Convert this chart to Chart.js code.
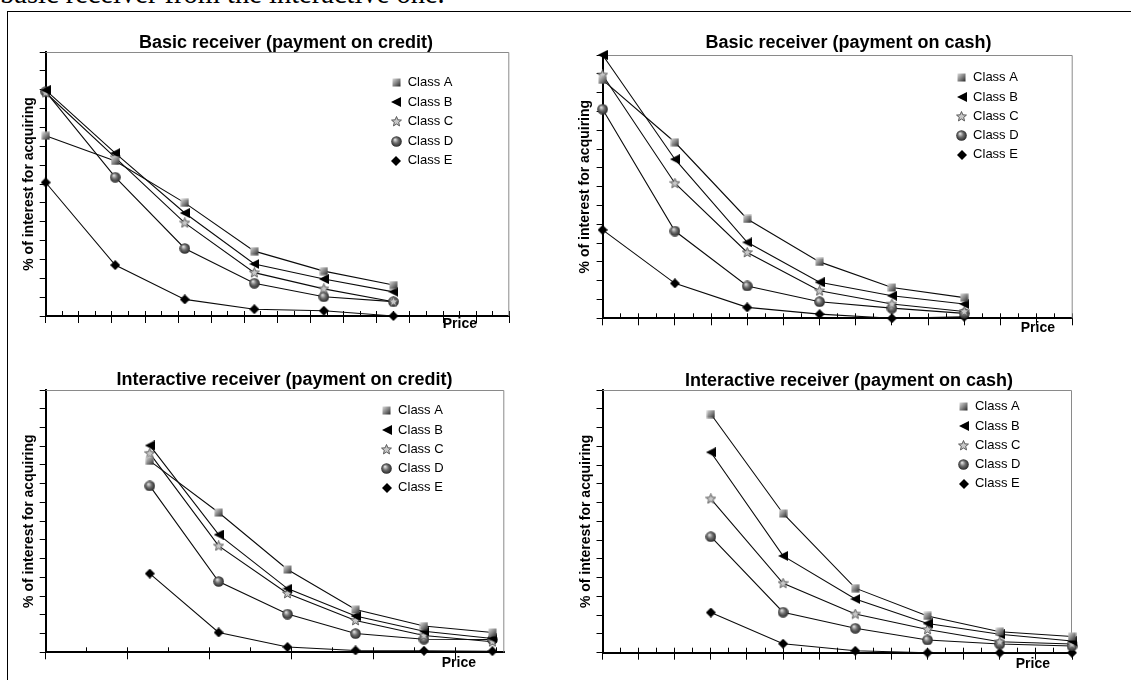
<!DOCTYPE html>
<html>
<head>
<meta charset="utf-8">
<script src="https://cdn.jsdelivr.net/npm/chart.js@4.4.1/dist/chart.umd.min.js"></script>
<style>
html,body{margin:0;padding:0;background:#fff;overflow:hidden;}
body{width:1131px;height:680px;position:relative;}
#intro{position:absolute;left:0;top:-20px;font:28.5px/1 "Liberation Serif","Times New Roman",serif;white-space:nowrap;color:#000;}
#marco{position:absolute;left:7px;top:11px;width:1300px;height:900px;border-left:1px solid #000;border-top:1px solid #000;}
canvas{position:absolute;}
</style>
</head>
<body>
<div id="intro">basic receiver from the interactive one.</div>
<div id="marco"></div>
<canvas id="g1" width="552" height="320" style="left:10px;top:20px"></canvas>
<canvas id="g2" width="547" height="320" style="left:575px;top:20px"></canvas>
<canvas id="g3" width="549" height="330" style="left:10px;top:350px"></canvas>
<canvas id="g4" width="548" height="330" style="left:575px;top:350px"></canvas>
<script>
// ===== DATOS =====
const classes=["Class A","Class B","Class C","Class D","Class E"];
const yTitle="% of interest for acquiring";
const xTitle="Price";

// basic receiver, credit
const bcTitle="Basic receiver (payment on credit)";
const bcPrice=[0,4.2,8.4,12.6,16.8,21];
const bcA=[47.8,41.1,30.0,17.2,11.9,8.2];
const bcB=[59.9,43.2,27.3,13.8,9.8,6.4];
const bcC=[59.2,42.0,24.7,11.5,7.2,3.8];
const bcD=[59.5,36.8,17.9,8.7,5.1,3.8];
const bcE=[35.4,13.5,4.4,1.8,1.4,0];

// basic receiver, cash
const bkTitle="Basic receiver (payment on cash)";
const bkPrice=[0,4,8,12,16,20];
const bkA=[63.4,46.8,26.4,15.0,8.2,5.5];
const bkB=[70.0,42.3,20.2,9.6,6.0,3.8];
const bkC=[64.7,35.9,17.5,7.3,3.8,1.8];
const bkD=[55.6,23.2,8.6,4.4,2.7,1.3];
const bkE=[23.5,9.3,2.9,1.1,0,0.4];

// interactive receiver, credit
const icTitle="Interactive receiver (payment on credit)";
const icPrice=[2.54,4.22,5.9,7.56,9.23,10.9];
const icA=[51.1,37.3,22.1,11.4,7.0,5.3];
const icB=[55.2,31.4,17.0,9.7,5.6,3.7];
const icC=[53.1,28.4,15.7,8.5,4.5,2.8];
const icD=[44.4,18.9,10.2,5.0,3.5,3.4];
const icE=[21.0,5.3,1.4,0.5,0.4,0.3];

// interactive receiver, cash
const ikTitle="Interactive receiver (payment on cash)";
const ikPrice=[6,10,14,18,22,26];
const ikA=[63.6,37.1,17.2,9.8,5.6,4.3];
const ikB=[53.4,25.8,14.3,7.8,4.9,3.1];
const ikC=[41.0,18.5,10.3,6.2,2.9,2.3];
const ikD=[30.9,10.8,6.5,3.4,2.3,1.8];
const ikE=[10.7,2.4,0.5,0,0,0];

const yMax=70, yStep=5;

// ===== MARCADORES =====
function marker(kind){
 const c=document.createElement("canvas");
 const s=kind==="A"?9:kind==="B"?10:kind==="E"?10:11;
 c.width=c.height=s;
 const x=c.getContext("2d");
 if(kind==="A"){
  const g=x.createLinearGradient(0,0,s,s);
  g.addColorStop(0,"#e6e6e6");g.addColorStop(.5,"#858585");g.addColorStop(1,"#1a1a1a");
  x.fillStyle=g;x.fillRect(.5,.5,s-1,s-1);
 }else if(kind==="B"){
  x.fillStyle="#000";x.beginPath();x.moveTo(0,5);x.lineTo(10,0);x.lineTo(10,10);x.closePath();x.fill();
 }else if(kind==="C"){
  x.beginPath();
  for(let i=0;i<10;i++){
   const r=i%2?2.3:5.2,a=-Math.PI/2+i*Math.PI/5;
   x.lineTo(5.5+r*Math.cos(a),5.7+r*Math.sin(a));
  }
  x.closePath();x.fillStyle="#c8c8c8";x.fill();x.strokeStyle="#595959";x.lineWidth=1;x.stroke();
 }else if(kind==="D"){
  const g=x.createRadialGradient(4,3.6,.4,5.5,5.5,5.6);
  g.addColorStop(0,"#dedede");g.addColorStop(.45,"#6e6e6e");g.addColorStop(1,"#222");
  x.fillStyle=g;x.beginPath();x.arc(5.5,5.5,5.3,0,Math.PI*2);x.fill();
 }else{
  x.fillStyle="#000";x.beginPath();x.moveTo(5,0);x.lineTo(10,5);x.lineTo(5,10);x.lineTo(0,5);x.closePath();x.fill();
 }
 return c;
}
const markers=["A","B","C","D","E"].map(marker);

// ===== PLUGIN (marco, leyenda, Price) =====
const extras={
 id:"extras",
 beforeDatasetsDraw(chart){
  const {ctx,chartArea:a}=chart;
  ctx.save();
  ctx.strokeStyle="#8a8a8a";ctx.lineWidth=1;
  ctx.beginPath();
  ctx.moveTo(a.left,a.top+.5);ctx.lineTo(a.right-.5,a.top+.5);ctx.lineTo(a.right-.5,a.bottom);
  ctx.stroke();
  ctx.restore();
 },
 afterDraw(chart,args,o){
  const {ctx,chartArea:a}=chart;
  ctx.save();
  ctx.fillStyle="#000";ctx.textBaseline="middle";
  ctx.font='13px "Liberation Sans", Arial, sans-serif';
  chart.data.datasets.forEach((d,i)=>{
   const x=a.right-o.legRight,y=a.top+o.legTop+i*o.legGap;
   const im=d.pointStyle;
   ctx.drawImage(im,Math.round(x-im.width/2),Math.round(y-im.height/2));
   ctx.fillText(d.label,x+11.3,y);
  });
  ctx.font='bold 14px "Liberation Sans", Arial, sans-serif';
  ctx.textAlign="right";
  ctx.fillText(xTitle,a.right-o.priceRight,a.bottom+o.priceDown);
  ctx.restore();
 }
};

// ===== GRAFICOS =====
Chart.defaults.font.family='"Liberation Sans", Arial, sans-serif';
Chart.defaults.color="#000";

function crearGrafico(id,title,price,series,xMax,L){
 const datasets=series.map((s,i)=>({
  label:classes[i],
  data:s.map((v,j)=>({x:price[j],y:v})),
  xAxisID:"x",yAxisID:"y",
  borderColor:"#0a0a0a",borderWidth:1.1,tension:0,
  pointStyle:markers[i],pointRadius:5,
  clip:false
 }));
 return new Chart(document.getElementById(id),{
  type:"line",
  data:{datasets},
  plugins:[extras],
  options:{
   responsive:false,animation:false,
   layout:{padding:0},
   plugins:{
    legend:{display:false},
    tooltip:{enabled:false},
    title:{display:true,text:title,color:"#000",font:{size:18,weight:"bold",lineHeight:1},padding:{top:L.titleTop,bottom:L.titleBottom}},
    extras:L.ext
   },
   scales:{
    xm:{
     type:"linear",position:"bottom",axis:"x",weight:0,min:0,max:xMax,
     ticks:{display:false,stepSize:1,includeBounds:false},
     grid:{drawOnChartArea:false,drawTicks:true,tickLength:-5,color:"#000"},
     border:{display:false},
     afterFit(s){s.height=0;}
    },
    x:{
     type:"linear",position:"bottom",weight:1,min:0,max:xMax,
     ticks:{display:false,stepSize:2,includeBounds:false},
     grid:{drawOnChartArea:false,drawTicks:true,tickLength:7,color:"#000"},
     border:{color:"#000",width:2},
     afterFit(s){s.height=L.xH;}
    },
    y:{
     min:0,max:yMax,
     ticks:{display:false,stepSize:yStep},
     grid:{drawOnChartArea:false,drawTicks:true,tickLength:6,color:"#000"},
     border:{color:"#000",width:2},
     title:{display:true,text:yTitle,color:"#000",font:{size:14,weight:"bold"},padding:{top:L.yTitlePad,bottom:0}},
     afterFit(s){s.width=L.yW;}
    },
    yr:{
     position:"right",axis:"y",min:0,max:yMax,
     ticks:{display:false},grid:{display:false},border:{display:false},
     afterFit(s){s.width=L.padRight;}
    }
   }
  }
 });
}

crearGrafico("g1",bcTitle,bcPrice,[bcA,bcB,bcC,bcD,bcE],28,
 {padRight:52.7,titleTop:14,titleBottom:0,xH:24,yW:35.7,yTitlePad:10.6,
  ext:{legRight:112.9,legTop:30.7,legGap:19.5,priceRight:32.3,priceDown:8}});
crearGrafico("g2",bkTitle,bkPrice,[bkA,bkB,bkC,bkD,bkE],26,
 {padRight:49.3,titleTop:14.3,titleBottom:2.7,xH:21.7,yW:27.6,yTitlePad:2.1,
  ext:{legRight:110.9,legTop:22.7,legGap:19.25,priceRight:17.7,priceDown:10}});
crearGrafico("g3",icTitle,icPrice,[icA,icB,icC,icD,icE],11.19,
 {padRight:54.7,titleTop:21,titleBottom:1,xH:27.7,yW:35.7,yTitlePad:10.6,
  ext:{legRight:117.5,legTop:20.7,legGap:19.3,priceRight:28.3,priceDown:11}});
crearGrafico("g4",ikTitle,ikPrice,[ikA,ikB,ikC,ikD,ikE],26,
 {padRight:51,titleTop:21.7,titleBottom:0.3,xH:27.3,yW:27.5,yTitlePad:2.6,
  ext:{legRight:108.4,legTop:16.7,legGap:19.25,priceRight:22,priceDown:11.3}});
</script>
</body>
</html>
